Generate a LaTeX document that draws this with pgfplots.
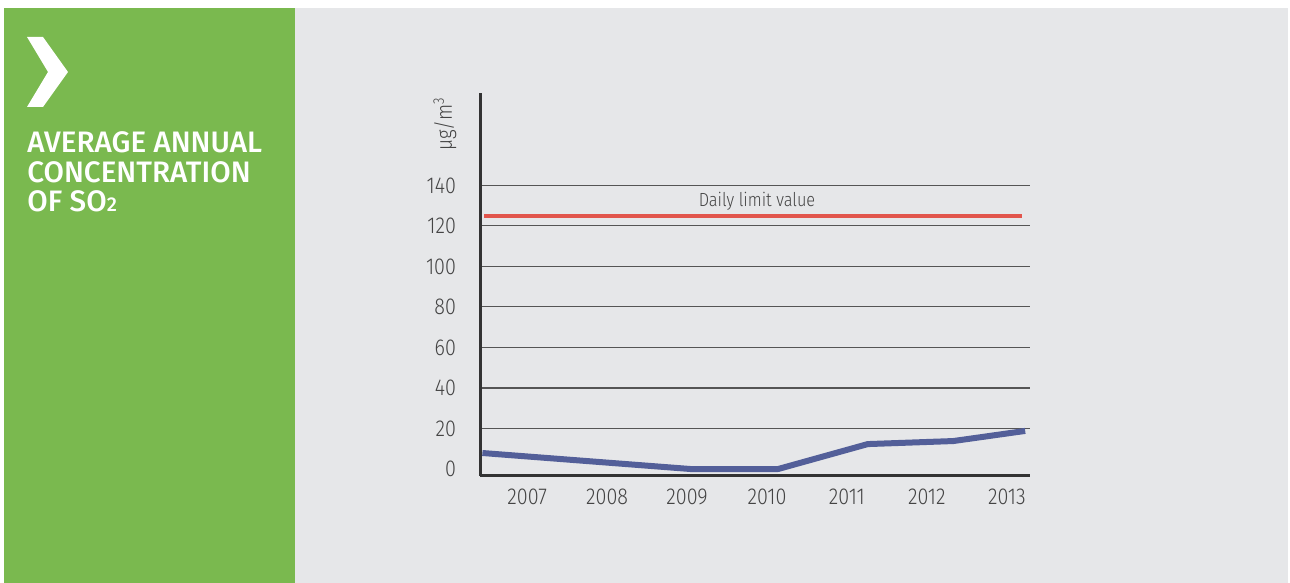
\documentclass[border=0pt]{standalone}
\usepackage{pgfplots}
\pgfplotsset{compat=1.18}
\usepackage{fontspec}
\setmainfont{Fira Sans}
\newfontfamily\dinlight[FakeStretch=0.86]{Fira Sans Light}
\newfontfamily\dintitle{Fira Sans Medium}
\definecolor{panelgreen}{HTML}{7AB94F}
\definecolor{panelgray}{HTML}{E6E7E9}
\definecolor{so2blue}{HTML}{535F99}
\definecolor{limitred}{HTML}{E2554C}
\definecolor{axisdark}{HTML}{333333}
\definecolor{gridgray}{HTML}{555555}
\definecolor{labelgray}{HTML}{444444}

\begin{document}
\begin{tikzpicture}
\begin{scope}[x=0.5pt,y=0.5pt]
\path[use as bounding box] (0,0) rectangle (1290,583);
\fill[white] (0,0) rectangle (1290,583);
% side panel and chart background
\fill[panelgreen] (4,0) rectangle (295,575);
\fill[panelgray] (295,0) rectangle (1288,575);
% chevron
\fill[white] (27,546) -- (43,546) -- (68,511) -- (43,476) -- (27,476) -- (48,511) -- cycle;
% panel title
\begin{scope}[every node/.style={anchor=base west, inner sep=0pt, text=white,
    font=\dintitle\fontsize{14.8}{14.8}\selectfont}]
  \node at (27,430) {AVERAGE ANNUAL};
  \node at (27,400) {CONCENTRATION};
  \node at (27,371) {OF SO{\fontsize{10}{10}\selectfont 2}};
\end{scope}
% unit label
\node[rotate=90, inner sep=0pt, text=labelgray,
  font=\dinlight\fontsize{11}{11}\selectfont] at (445,459) {µg/m\textsuperscript{3}};
\end{scope}

\begin{axis}[
  at={(240pt,53.5pt)}, anchor=south west,
  scale only axis, width=275pt, height=191.5pt,
  xmin=2006.41, xmax=2013.29, ymin=-3.45, ymax=185.6,
  axis x line=bottom, axis y line=left,
  axis line style={-, line width=1.5pt, color=axisdark},
  major tick length=0pt,
  ytick={20,40,...,140},
  extra y ticks={0},
  extra y tick style={grid=none},
  ymajorgrids=true,
  major grid style={gridgray, line width=0.55pt},
  xtick={2007,2008,2009,2010,2011,2012,2013},
  xticklabels={2007,2008,2009,2010,2011,2012,2013},
  /pgf/number format/assume math mode=true,
  tick label style={font=\dinlight\fontsize{11.5}{12}\selectfont, text=labelgray},
  yticklabel style={anchor=east, xshift=-8.5pt},
  xticklabel style={anchor=north, yshift=-3pt},
]
% daily limit value
\addplot[limitred, line width=2pt] coordinates {(2006.46,125) (2013.19,125)};
\node[anchor=base, inner sep=0pt, text=labelgray,
  font=\dinlight\fontsize{9.5}{10}\selectfont] at (axis cs:2009.875,129.8) {Daily limit value};
% annual mean SO2
\addplot[so2blue, line width=3pt, line join=round] coordinates {
  (2006.44,7.9) (2009.04,0) (2010.14,0) (2011.26,12.3) (2012.33,13.8) (2013.23,18.8)
};
\end{axis}
\end{tikzpicture}
\end{document}
